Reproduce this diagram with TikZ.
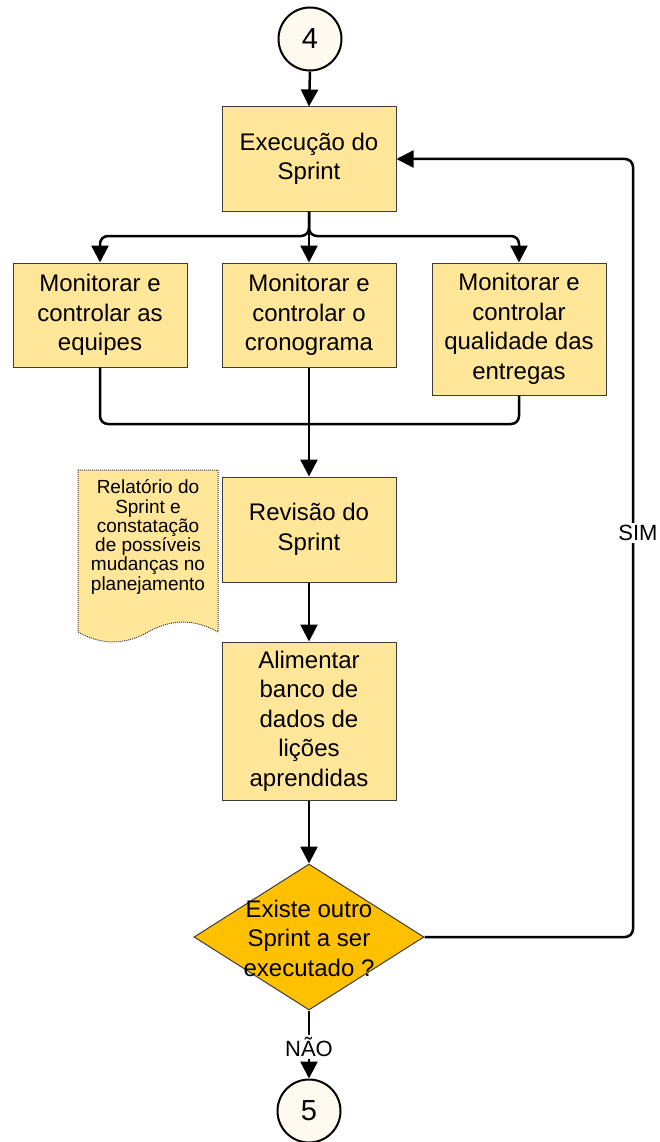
\documentclass[tikz,border=0pt]{standalone}
\usepackage{fontspec}
\setmainfont{Liberation Sans}
\usetikzlibrary{arrows.meta,shapes.geometric}
\definecolor{boxfill}{HTML}{FFE699}
\definecolor{decfill}{HTML}{FFC000}
\definecolor{termfill}{HTML}{FFFAF0}
\definecolor{boxline}{HTML}{3C3C3C}
\tikzset{
  stepbox/.style={draw=boxline, line width=1pt, fill=boxfill, minimum width=174pt,
    inner sep=0pt, align=center, font=\fontsize{24}{29.5}\selectfont},
  connector/.style={draw=black, fill=termfill, circle, line width=2pt,
    minimum size=63pt, inner sep=0pt, font=\fontsize{29}{30}\selectfont},
  decision/.style={draw=boxline, line width=1pt, fill=decfill, diamond,
    minimum width=230pt, minimum height=146pt, inner sep=0pt},
  dectext/.style={align=center, inner sep=0pt, font=\fontsize{24}{29.5}\selectfont},
  flow/.style={line width=2.5pt, rounded corners=8pt, -{Triangle[length=17pt,width=17pt]}},
  wire/.style={line width=2.5pt, rounded corners=8pt},
  lbl/.style={fill=white, inner sep=2pt, font=\fontsize{22}{24}\selectfont},
  docshape/.style={draw=boxline, line width=1pt, dash pattern=on 1pt off 1pt, fill=boxfill},
  doctext/.style={align=center, inner sep=0pt, font=\fontsize{19}{19.3}\selectfont},
}
\begin{document}
\begin{tikzpicture}[x=1pt, y=-1pt]
\useasboundingbox (0,0) rectangle (660,1142);

% report document beside the review step
\draw[docshape] (78,470) -- (218,470) -- (218,632)
  .. controls (194.67,618.8) and (171.33,618.8) .. (148,632)
  .. controls (124.67,645.2) and (101.33,645.2) .. (78,632) -- cycle;
\node[doctext] (report) at (148,537) {Relatório do\\Sprint e\\constatação\\de possíveis\\mudanças no\\planejamento};

% steps
\node[connector] (c4) at (310,39) {4};
\node[stepbox, minimum height=104pt] (exec) at (309,159) {Execução do\\Sprint};
\node[stepbox, minimum height=104pt] (mon1) at (100,315) {Monitorar e\\controlar as\\equipes};
\node[stepbox, minimum height=104pt] (mon2) at (309,315) {Monitorar e\\controlar o\\cronograma};
\node[stepbox, minimum height=132pt] (mon3) at (519,329) {Monitorar e\\controlar\\qualidade das\\entregas};
\node[stepbox, minimum height=105pt] (rev) at (309,529.5) {Revisão do\\Sprint};
\node[stepbox, minimum height=158pt] (alim) at (309,721) {Alimentar\\banco de\\dados de\\lições\\aprendidas};
\node[decision] (dec) at (309,937) {};
\node[dectext] (dect) at (309,938) {Existe outro\\Sprint a ser\\executado ?};
\node[connector] (c5) at (309,1111) {5};

% connectors
\coordinate (split) at (309,236);
\coordinate (merge) at (309,424);
\coordinate (loopTop) at (633,159);

\draw[flow] (c4.south) -- (exec.north);
\draw[flow] (exec.south) -- (split) -| (mon1.north);
\draw[flow] (exec.south) -- (mon2.north);
\draw[flow] (exec.south) -- (split) -| (mon3.north);
\draw[wire] (mon1.south) |- (merge);
\draw[wire] (mon3.south) |- (merge);
\draw[flow] (mon2.south) -- (rev.north);
\draw[flow] (rev.south) -- (alim.north);
\draw[flow] (alim.south) -- (dec.north);
\draw[flow] (dec.east) -| (loopTop) -- (exec.east);
\draw[flow] (dec.south) -- (c5.north);

% branch labels
\node[lbl] (sim) at (638,533) {SIM};
\node[lbl] (nao) at (309,1047) {NÃO};
\end{tikzpicture}
\end{document}
